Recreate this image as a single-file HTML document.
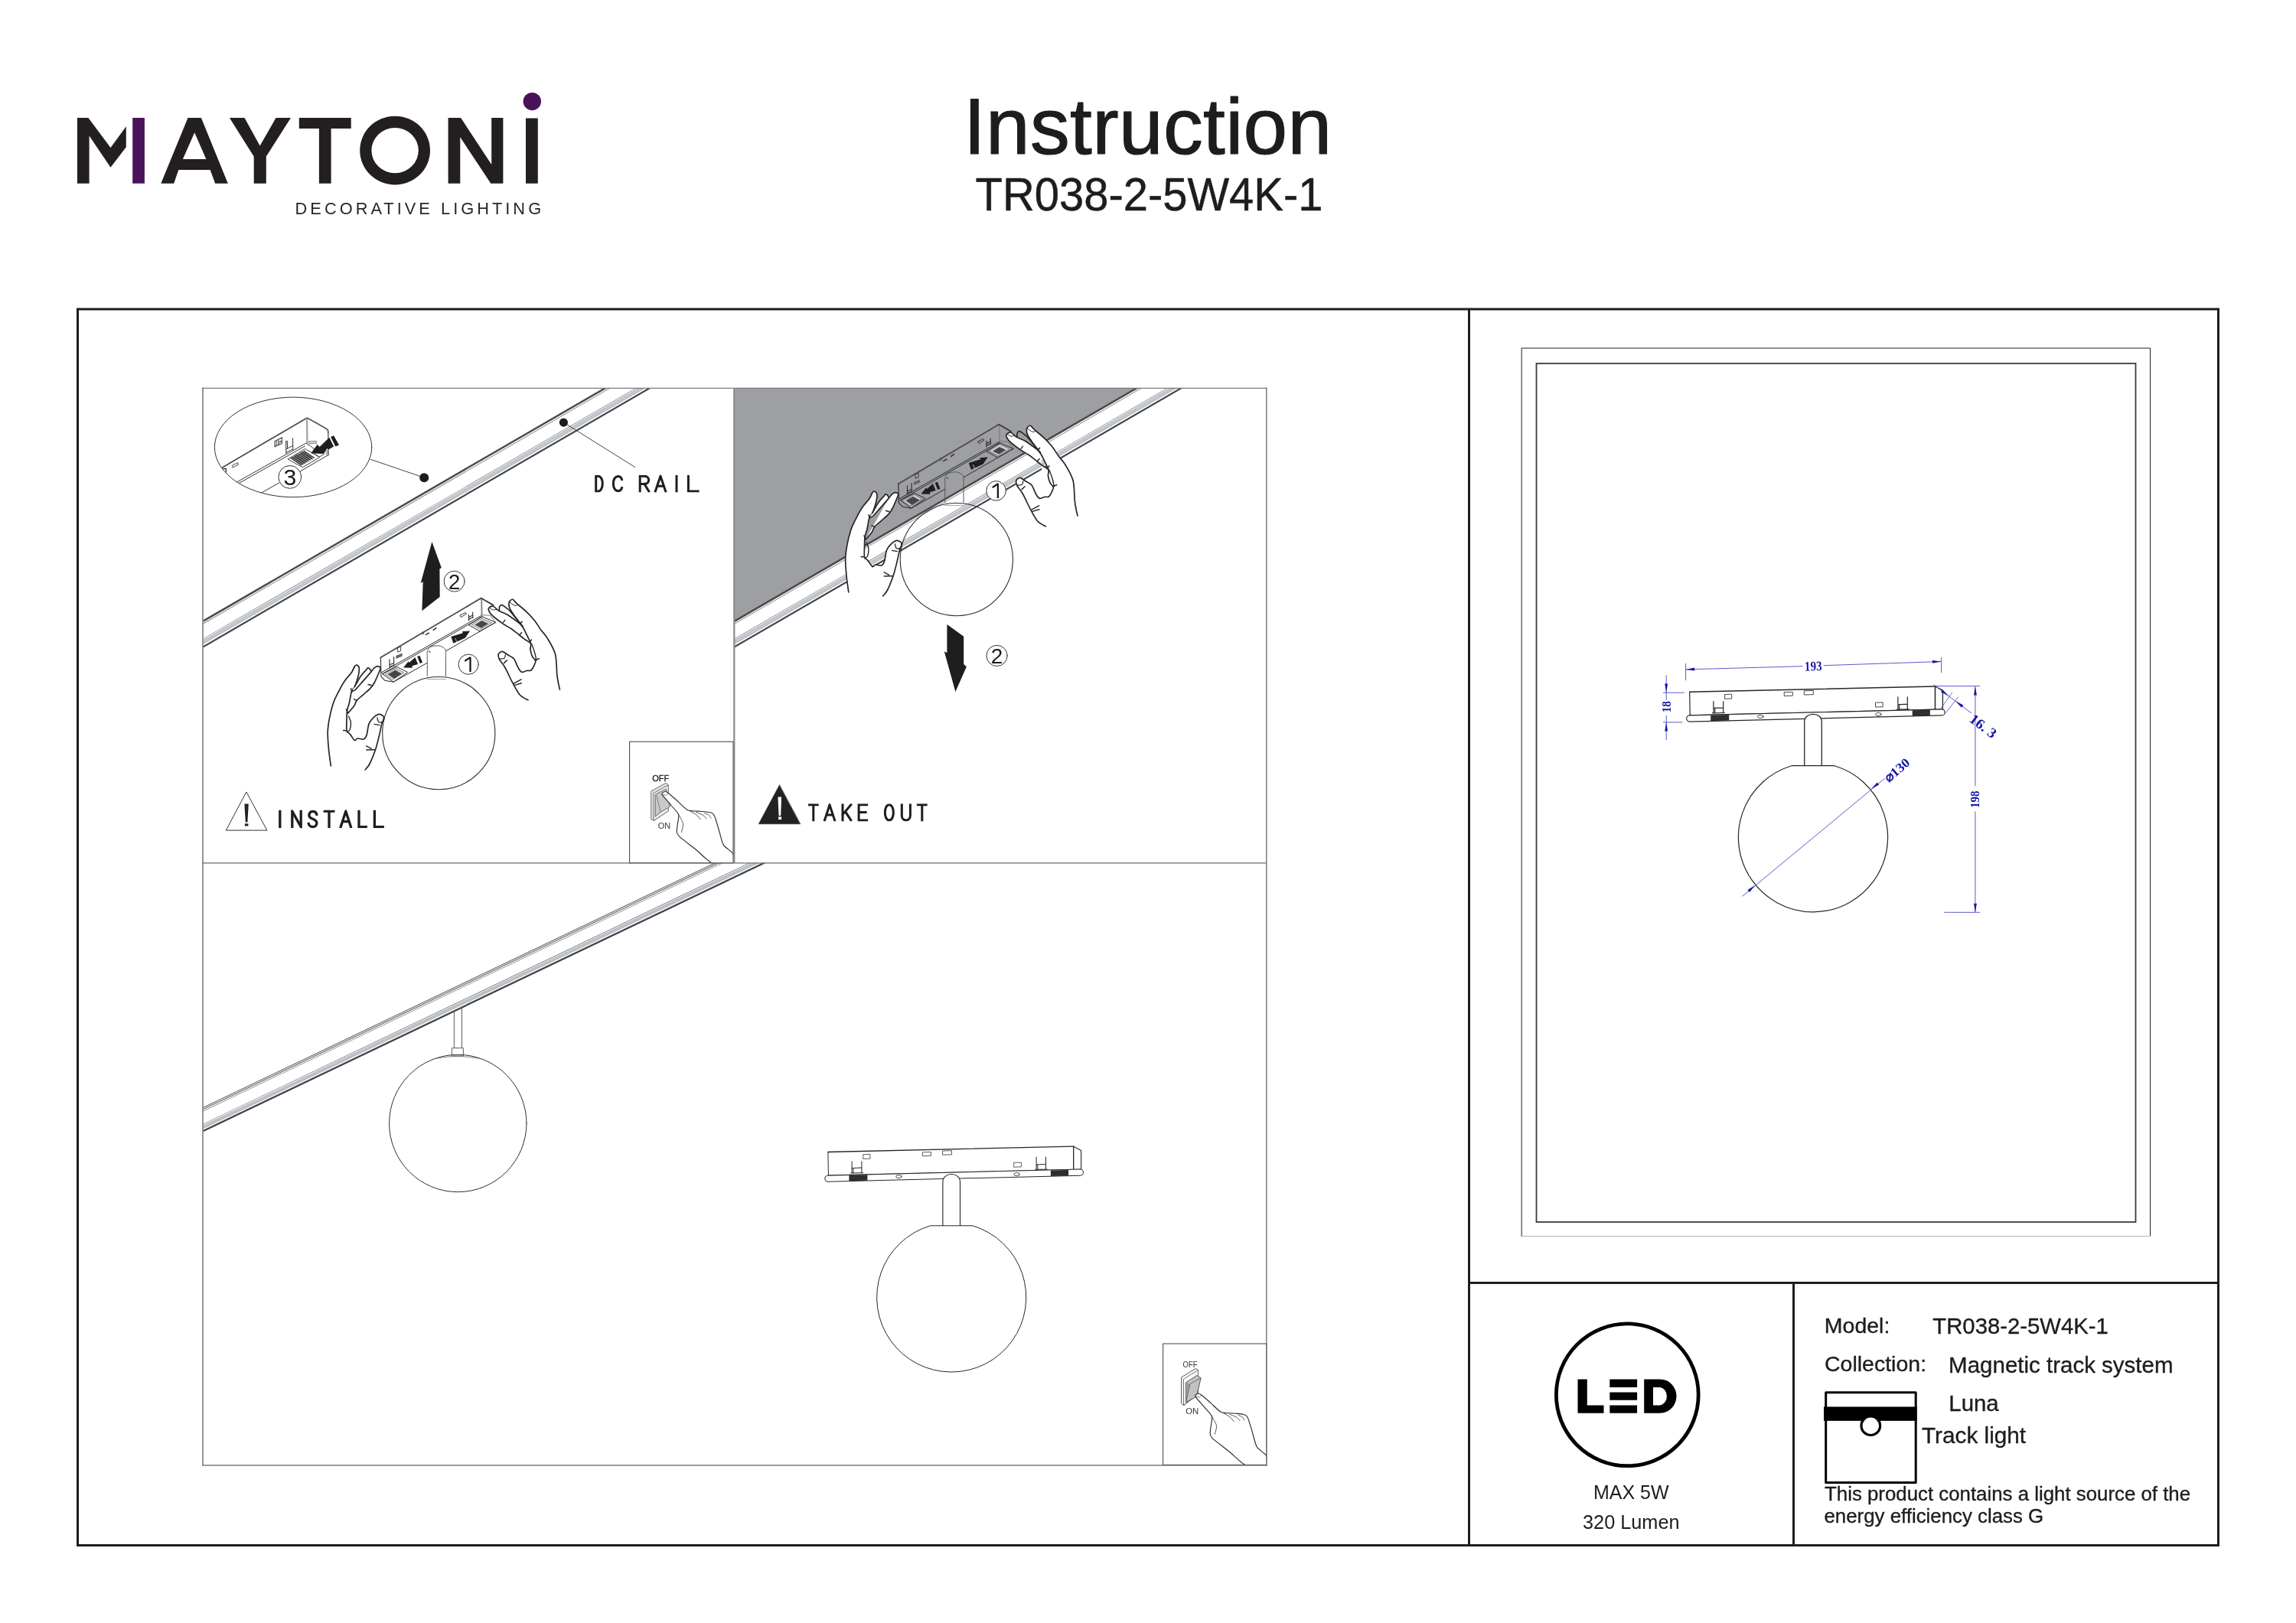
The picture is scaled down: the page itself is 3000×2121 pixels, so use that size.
<!DOCTYPE html>
<html><head><meta charset="utf-8"><title>Instruction TR038-2-5W4K-1</title>
<style>
html,body{margin:0;padding:0;background:#fff;}
body{width:3000px;height:2121px;overflow:hidden;font-family:"Liberation Sans",sans-serif;}
svg{display:block;position:absolute;left:0;top:0;will-change:transform;}
</style></head><body>
<svg width="3000" height="2121" viewBox="0 0 3000 2121" stroke-linecap="round" stroke-linejoin="round"><g opacity="0.999">
<g fill="#231f20" stroke="none">
<path d="M100.9 154 L115.4 154 L144.5 192.9 L164.8 165.3 L164.8 192.3 L144.5 218.8 L116.6 177.5 L116.6 239.7 L100.9 239.7Z" fill="#231f20" stroke="none" stroke-width="1.2" />
<path d="M210.3 239.7 L245.5 154 L262.9 154 L297.8 239.7 L281.2 239.7 L274.6 222 L233.3 222 L227.2 239.7Z M254.2 173.2 L269.4 208 L238.9 208Z" fill="#231f20" stroke="none" stroke-width="1.2" fill-rule="evenodd"/>
<path d="M299.9 154 L319.5 154 L339.6 190.6 L360.5 154 L380 154 L347.8 204.5 L347.8 239.7 L331.7 239.7 L331.7 204.5Z" fill="#231f20" stroke="none" stroke-width="1.2" />
<path d="M390.8 154 L458.7 154 L458.7 167.9 L432.6 167.9 L432.6 239.7 L416.9 239.7 L416.9 167.9 L390.8 167.9Z" fill="#231f20" stroke="none" stroke-width="1.2" />
<path fill-rule="evenodd" d="M470.2 196.6 a45.9 44.9 0 1 0 91.8 0 a45.9 44.9 0 1 0 -91.8 0Z M485.4 196.6 a30.7 29.6 0 1 0 61.4 0 a30.7 29.6 0 1 0 -61.4 0Z"/>
<path d="M585.6 239.7 L585.6 154 L602.1 154 L642.2 215 L642.2 154 L657.4 154 L657.4 239.7 L641.3 239.7 L601.3 179.3 L601.3 239.7Z" fill="#231f20" stroke="none" stroke-width="1.2" />
<path d="M687 154.4 L702.8 154.4 L702.8 239.7 L687 239.7Z" fill="#231f20" stroke="none" stroke-width="1.2" />
</g>
<path d="M173.2 154 L188.9 154 L188.9 239.7 L173.2 239.7Z" fill="#4a1259" stroke="none" stroke-width="1.2" />
<circle cx="695.3" cy="132.6" r="11.7" fill="#4a1259"/>
<text x="385.6" y="279.5" font-family="'Liberation Sans', sans-serif" font-size="21.8" font-weight="normal" text-anchor="start" fill="#2a2627" textLength="321.5" lengthAdjust="spacing">DECORATIVE LIGHTING</text>
<text x="1259" y="200.6" font-family="'Liberation Sans', sans-serif" font-size="103.5" font-weight="normal" text-anchor="start" fill="#1f1c1d" stroke="#1f1c1d" stroke-width="1.2" textLength="481" lengthAdjust="spacing">Instruction</text>
<text x="1274.5" y="274.7" font-family="'Liberation Sans', sans-serif" font-size="61.3" font-weight="normal" text-anchor="start" fill="#1f1c1d" stroke="#1f1c1d" stroke-width="0.5" textLength="454" lengthAdjust="spacingAndGlyphs">TR038-2-5W4K-1</text>
<g fill="none" stroke="#1e1e1e" stroke-width="3" stroke-linecap="butt" stroke-linejoin="miter">
<rect x="101.5" y="404" width="2797" height="1615.5"/>
<line x1="1919.5" y1="404" x2="1919.5" y2="2019.5"/>
<line x1="1919.5" y1="1676.5" x2="2898.5" y2="1676.5"/>
<line x1="2343.5" y1="1676.5" x2="2343.5" y2="2019.5"/>
</g>
<g fill="none" stroke-linecap="butt" stroke-linejoin="miter">
<path d="M1988.2 1616 V455 H2809.6" stroke="#6a6a6a" stroke-width="1.5"/>
<path d="M2809.6 455 V1615.6" stroke="#2a2a2a" stroke-width="1.1"/>
<path d="M1988.2 1615.6 H2809.6" stroke="#b0b0b0" stroke-width="1"/>
<rect x="2007.5" y="475" width="783" height="1122" stroke="#3c3c3c" stroke-width="1.8"/>
</g>
<circle cx="2126.3" cy="1822.8" r="92.9" fill="none" stroke="#000" stroke-width="4.8"/>
<path d="M2061.5 1802.4 L2073.8 1802.4 L2073.8 1836.4 L2095.5 1836.4 L2095.5 1846.8 L2061.5 1846.8Z" fill="#000" stroke="none" stroke-width="1.2" />
<path d="M2103.3 1802.4 L2139.1 1802.4 L2139.1 1812.9 L2103.3 1812.9Z" fill="#000" stroke="none" stroke-width="1.2" />
<path d="M2103.3 1819.4 L2139.1 1819.4 L2139.1 1829.8 L2103.3 1829.8Z" fill="#000" stroke="none" stroke-width="1.2" />
<path d="M2103.3 1836.4 L2139.1 1836.4 L2139.1 1846.8 L2103.3 1846.8Z" fill="#000" stroke="none" stroke-width="1.2" />
<path fill="#000" fill-rule="evenodd" d="M2148.2 1802.4 H2169.1 A21.4 22.2 0 0 1 2169.1 1846.8 H2148.2 Z M2160 1812.9 H2169.1 A9.7 11.8 0 0 1 2169.1 1836.4 H2160 Z"/>
<text x="2131.3" y="1958.7" font-family="'Liberation Sans', sans-serif" font-size="25" font-weight="normal" text-anchor="middle" fill="#1d1d1d" >MAX 5W</text>
<text x="2131.3" y="1998.4" font-family="'Liberation Sans', sans-serif" font-size="25.3" font-weight="normal" text-anchor="middle" fill="#1d1d1d" >320 Lumen</text>
<text x="2383.8" y="1741.9" font-family="'Liberation Sans', sans-serif" font-size="28.5" font-weight="normal" text-anchor="start" fill="#1d1d1d" stroke="#1d1d1d" stroke-width="0.35">Model:</text>
<text x="2525.3" y="1743.2" font-family="'Liberation Sans', sans-serif" font-size="29.3" font-weight="normal" text-anchor="start" fill="#1d1d1d" stroke="#1d1d1d" stroke-width="0.35">TR038-2-5W4K-1</text>
<text x="2384" y="1792.4" font-family="'Liberation Sans', sans-serif" font-size="28.5" font-weight="normal" text-anchor="start" fill="#1d1d1d" stroke="#1d1d1d" stroke-width="0.35">Collection:</text>
<text x="2546.1" y="1793.7" font-family="'Liberation Sans', sans-serif" font-size="29.5" font-weight="normal" text-anchor="start" fill="#1d1d1d" stroke="#1d1d1d" stroke-width="0.35">Magnetic track system</text>
<text x="2546.3" y="1843.7" font-family="'Liberation Sans', sans-serif" font-size="29.4" font-weight="normal" text-anchor="start" fill="#1d1d1d" stroke="#1d1d1d" stroke-width="0.35">Luna</text>
<text x="2511" y="1885.9" font-family="'Liberation Sans', sans-serif" font-size="29.75" font-weight="normal" text-anchor="start" fill="#1d1d1d" stroke="#1d1d1d" stroke-width="0.35">Track light</text>
<text x="2384" y="1961.4" font-family="'Liberation Sans', sans-serif" font-size="25.84" font-weight="normal" text-anchor="start" fill="#1d1d1d" stroke="#1d1d1d" stroke-width="0.35">This product contains a light source of the</text>
<text x="2383.5" y="1989.7" font-family="'Liberation Sans', sans-serif" font-size="25.84" font-weight="normal" text-anchor="start" fill="#1d1d1d" stroke="#1d1d1d" stroke-width="0.35">energy efficiency class G</text>
<rect x="2385.7" y="1819.7" width="117.5" height="117.7" fill="#fff" stroke="#000" stroke-width="3"/>
<rect x="2383" y="1838.4" width="121.7" height="18.4" fill="#000"/>
<circle cx="2444.3" cy="1863.2" r="12.3" fill="#fff" stroke="#000" stroke-width="3.2"/>
<defs>
<clipPath id="cp1"><rect x="264.5" y="507.5" width="695" height="620.3"/></clipPath>
<clipPath id="cp2"><rect x="959.5" y="507.5" width="695.3" height="620.3"/></clipPath>
<clipPath id="cp3"><rect x="264.5" y="1127.8" width="1390.3" height="786.6"/></clipPath>
<clipPath id="cpsw"><rect x="822.4" y="969.1" width="135.8" height="158.6"/></clipPath>
<clipPath id="cpell"><ellipse cx="383.1" cy="584.4" rx="102.7" ry="65.3"/></clipPath>
</defs>
<path d="M959.5 507.5 L1484.8 507.5 L959.5 811.9Z" fill="#9d9fa2" stroke="none" stroke-width="1.2" />
<g clip-path="url(#cp1)" stroke-linecap="butt">
<line x1="259.5" y1="815.1" x2="964.5" y2="406.6" stroke="#4a4a4a" stroke-width="2.5" />
<line x1="259.5" y1="818.6" x2="964.5" y2="410.1" stroke="#9a9a9a" stroke-width="1.1" />
<path d="M259.5 838 L964.5 429.5 L964.5 430.4 L259.5 838.9Z" fill="#6e6e6e" stroke="none" stroke-width="1.2" />
<path d="M259.5 838.9 L964.5 430.4 L964.5 431.4 L259.5 839.9Z" fill="#f4f5f6" stroke="none" stroke-width="1.2" />
<path d="M259.5 839.9 L964.5 431.4 L964.5 437.2 L259.5 845.7Z" fill="#b9bec5" stroke="none" stroke-width="1.2" />
<path d="M259.5 841.6 L964.5 433.1 L964.5 434.9 L259.5 843.4Z" fill="#c9cdd3" stroke="none" stroke-width="1.2" />
<path d="M259.5 845.7 L964.5 437.2 L964.5 439 L259.5 847.5Z" fill="#fafafa" stroke="none" stroke-width="1.2" />
<path d="M259.5 847.5 L964.5 439 L964.5 441.5 L259.5 850Z" fill="#424447" stroke="none" stroke-width="1.2" />
</g>
<g clip-path="url(#cp2)" stroke-linecap="butt">
<line x1="954.5" y1="814.8" x2="1659.8" y2="406.1" stroke="#4a4a4a" stroke-width="2.5" />
<line x1="954.5" y1="818.3" x2="1659.8" y2="409.6" stroke="#9a9a9a" stroke-width="1.1" />
<path d="M954.5 837.7 L1659.8 429 L1659.8 429.9 L954.5 838.6Z" fill="#6e6e6e" stroke="none" stroke-width="1.2" />
<path d="M954.5 838.6 L1659.8 429.9 L1659.8 430.9 L954.5 839.6Z" fill="#f4f5f6" stroke="none" stroke-width="1.2" />
<path d="M954.5 839.6 L1659.8 430.9 L1659.8 436.7 L954.5 845.4Z" fill="#b9bec5" stroke="none" stroke-width="1.2" />
<path d="M954.5 841.3 L1659.8 432.6 L1659.8 434.4 L954.5 843.1Z" fill="#c9cdd3" stroke="none" stroke-width="1.2" />
<path d="M954.5 845.4 L1659.8 436.7 L1659.8 438.5 L954.5 847.2Z" fill="#fafafa" stroke="none" stroke-width="1.2" />
<path d="M954.5 847.2 L1659.8 438.5 L1659.8 441 L954.5 849.7Z" fill="#424447" stroke="none" stroke-width="1.2" />
</g>
<g clip-path="url(#cp3)" stroke-linecap="butt">
<line x1="259.5" y1="1450.2" x2="1659.8" y2="780.9" stroke="#505050" stroke-width="1.0" />
<line x1="259.5" y1="1452.6" x2="1659.8" y2="783.3" stroke="#4a4a4a" stroke-width="1.0" />
<line x1="259.5" y1="1455" x2="1659.8" y2="785.7" stroke="#8a8a8a" stroke-width="0.9" />
<line x1="259.5" y1="1451.4" x2="1659.8" y2="782.1" stroke="#c4c4c4" stroke-width="1.2" />
<path d="M259.5 1471.6 L1659.8 802.2 L1659.8 803.1 L259.5 1472.5Z" fill="#66686b" stroke="none" stroke-width="1.2" />
<path d="M259.5 1472.5 L1659.8 803.1 L1659.8 803.9 L259.5 1473.3Z" fill="#f2f3f4" stroke="none" stroke-width="1.2" />
<path d="M259.5 1473.3 L1659.8 803.9 L1659.8 808.9 L259.5 1478.3Z" fill="#bcc1c7" stroke="none" stroke-width="1.2" />
<path d="M259.5 1478.3 L1659.8 808.9 L1659.8 810.3 L259.5 1479.7Z" fill="#fbfbfb" stroke="none" stroke-width="1.2" />
<path d="M259.5 1479.7 L1659.8 810.3 L1659.8 812.8 L259.5 1482.2Z" fill="#3f4144" stroke="none" stroke-width="1.2" />
</g>
<g fill="none" stroke-linecap="butt" stroke-linejoin="miter">
<line x1="265" y1="506.6" x2="265" y2="1915.7" stroke="#949494" stroke-width="2"/>
<line x1="264" y1="507.3" x2="1655.4" y2="507.3" stroke="#5c5c5c" stroke-width="1.1"/>
<line x1="1654.8" y1="506.6" x2="1654.8" y2="1915.7" stroke="#5a5a5a" stroke-width="1.2"/>
<line x1="264" y1="1914.9" x2="1655.4" y2="1914.9" stroke="#8c8c8c" stroke-width="1.7"/>
<line x1="264.5" y1="1127.9" x2="1654.8" y2="1127.9" stroke="#6e6e6e" stroke-width="1.4"/>
<line x1="959.3" y1="507.5" x2="959.3" y2="1127.9" stroke="#8a8a8a" stroke-width="2.2"/>
</g>
<defs>
<g id="fx" fill="none" stroke="#2b2b2b" stroke-width="1.1">
<path d="M628.5 781.8 L497.4 859.3" fill="none" stroke="#4d4d4d" stroke-width="1.9" />
<path d="M497.4 859.3 L497.9 884.1 L502.8 889.2 L514 891.3" fill="none" stroke="#2a2a2a" stroke-width="1.1" />
<path d="M629.2 782.2 L629.5 803.6" fill="none" stroke="#8a8a8a" stroke-width="2.0" />
<path d="M628.8 781.8 L644.6 790.9" fill="none" stroke="#3a3a3a" stroke-width="1.8" />
<path d="M498.3 878.9 L629 804.4" fill="none" stroke="#2a2a2a" stroke-width="1.0" />
<path d="M499.6 880.6 L630.3 805.9" fill="none" stroke="#2a2a2a" stroke-width="1.0" />
<path d="M514.5 891 L558.1 866.3" fill="none" stroke="#2a2a2a" stroke-width="1.0" />
<path d="M582.9 850.6 L647.6 813.3" fill="none" stroke="#2a2a2a" stroke-width="1.0" />
<path d="M629.5 803.8 L640.5 804.1 L647.7 814" fill="none" stroke="#777" stroke-width="1.0" />
<path d="M500.2 880.6 L518.7 871.5 L532.6 878.5 L514.5 891Z" fill="none" stroke="#2a2a2a" stroke-width="1.0" />
<path d="M503.4 881.3 L518 873.6 L527.8 878.9 L513.5 887.9Z" fill="#d4d4d4" stroke="#777" stroke-width="0.8" />
<path d="M506.8 881.3 L516.6 875.7 L525 880.6 L515.2 886.9Z" fill="#474747" stroke="none" stroke-width="1.2" />
<path d="M612.8 816.5 L629.5 805.7 L647.6 813.3 L627.4 824.8Z" fill="none" stroke="#2a2a2a" stroke-width="1.0" />
<path d="M616.3 816.1 L629.5 808.1 L642.7 813.7 L628.1 822.4Z" fill="#d4d4d4" stroke="#777" stroke-width="0.8" />
<path d="M620.4 816.5 L629.5 810.9 L637.9 815.1 L628.8 820.7Z" fill="#474747" stroke="none" stroke-width="1.2" />
<path d="M527 872.5 L533.7 864.2 L534.6 866 L542.4 859 L546.1 867.9 L538.3 870.3 L538.9 872.7Z" fill="#1f1e1c" stroke="none" stroke-width="1.2" />
<path d="M545.2 858.1 L548.3 856.8 L552 865.5 L548.7 867.1Z" fill="#1f1e1c" stroke="none" stroke-width="1.2" />
<path d="M614.1 824.6 L603.8 825.2 L604.8 827.3 L589.3 832.1 L592.4 840.7 L607.1 833.9 L607.8 833.7Z" fill="#1f1e1c" stroke="none" stroke-width="1.2" />
<path d="M595 834.4 L596.9 839.1" fill="none" stroke="#fff" stroke-width="0.7" />
<path d="M508.9 861.8 L509.1 872.9M514.5 858.6 L514.7 870.1M508.9 868.7 L514.5 866.7M508.9 871.5 L514.5 869.4" fill="none" stroke="#2a2a2a" stroke-width="1.1" />
<path d="M612.4 803.2 L612.6 810.9M617.6 800.1 L617.9 807.4M612.4 806.7 L617.6 803.9M612.4 809.5 L617.6 806.7" fill="none" stroke="#2a2a2a" stroke-width="1.1" />
<path d="M517.3 856.9 L525.7 853.4 L525.7 857.6 L517.3 861.1Z" fill="#666" stroke="none" stroke-width="1.2" />
<path d="M519.7 846.4 L523.6 845.1 L523.6 850.6 L520.1 852Z" fill="none" stroke="#2a2a2a" stroke-width="0.9" />
<path d="M556.3 829.4 L560.5 827.3" fill="none" stroke="#333" stroke-width="1.6" />
<path d="M566.1 823.4 L569.9 820.7" fill="none" stroke="#333" stroke-width="1.6" />
<path d="M601.3 803.9 L608.2 800.5 L609.3 802.2 L602.7 806.4Z" fill="none" stroke="#333" stroke-width="1.0" />
<circle cx="552.5" cy="827.3" r="1.2" stroke="#333" fill="#fff"/>
<path d="M558.3 883.4 C558.3 880.2 558.3 864 558.3 859.7 C558.3 855.4 557.8 853.2 558.3 851.3 C558.8 849.5 560.5 846.7 561.9 845.7 C563.3 844.8 567.1 844.2 568.9 844 C570.6 843.8 573.6 843.8 575.1 844.2 C576.7 844.6 579.7 846.3 580.7 847.1 C581.7 848 582.2 849 582.5 850.6 C582.7 852.3 582.5 855.3 582.5 859.7 C582.5 864.1 582.5 880.2 582.5 883.4" fill="none" stroke="#555" stroke-width="1.0" />
<circle cx="561.2" cy="851.7" r="0.9" stroke="#444" stroke-width="0.7"/>
<circle cx="573.3" cy="958.1" r="73.6" stroke="#2e2e2e" stroke-width="1.1"/>
<path d="M558.1 887.6 L582.8 887.6" fill="none" stroke="#999" stroke-width="0.9" />
<path d="M432.3 1001 C431.9 997.6 430 985.5 429.4 978.3 C428.8 971.1 427.6 961.2 428.4 952.7 C429.2 944.1 432.6 928.5 434.8 921.1 C436.9 913.7 440.3 908.1 442.7 903.4 C445 898.6 448 893.3 450.6 889.6 C453.1 885.9 457.5 881.5 459.4 878.7 C461.4 875.9 462.3 872.3 463.4 870.8 C464.4 869.4 465.4 868.8 466.3 869.1 C467.2 869.4 469 870.8 469.3 872.8 C469.6 874.9 469.2 879 468.3 882.7 C467.4 886.4 464.7 894.4 463.4 897.5 C462 900.6 460.5 900.3 459.4 903.4 C458.4 906.5 457.4 914.3 456.5 918.2 C455.6 922 454 925.5 453.5 929 C453 932.6 453.1 938 453 941.8 C453 945.7 452.4 952 453 954.6 C453.7 957.3 455.9 957.6 457.5 959.6 C459 961.5 461.9 966.6 463.4 967.5 C464.9 968.3 465.5 965.2 467.3 965 C469.1 964.8 473.4 966.6 475.2 966 C477 965.3 478.1 963.6 479.1 960.6 C480.2 957.5 480.6 949.3 482.1 945.8 C483.6 942.2 487.1 938.7 489 936.9 C490.9 935 493.2 933.7 494.9 933.4 C496.6 933.2 499.3 934.6 500.3 935.4 C501.4 936.2 502 937.3 501.8 938.9 C501.6 940.4 499.8 942.7 498.9 945.8 C498 948.9 497.1 954.7 495.9 959.6 C494.7 964.4 492.9 972.5 491 978.3 C489.1 984.1 485.2 993.9 483.1 998 C481 1002.2 478.1 1004.7 477.2 1005.9" fill="#fff" stroke="#262626" stroke-width="1.7" />
<path d="M484.6 878.2 C485.2 877.4 487.7 874 489 872.8 C490.3 871.7 492.3 870.7 493.4 870.6 C494.6 870.6 496.4 871.6 496.9 872.3 C497.3 873.1 497.6 872.7 496.4 875.8 C495.2 878.8 491 888.8 489 892.5 C487 896.2 485.2 898.2 483.1 900.4 C481 902.6 477.7 905.1 475.2 907.3 C472.7 909.5 468.3 912.8 466.3 915.2 C464.4 917.6 464.2 920.6 462.4 923.1 C460.6 925.6 455.7 930.6 454.5 932" fill="#fff" stroke="#262626" stroke-width="1.7" />
<path d="M463.4 897.5 C464.6 895.4 469 886.9 471.3 883.7 C473.5 880.4 476.8 877.4 478.2 875.8 C479.6 874.1 479.8 873 480.6 872.8 C481.4 872.7 483 874 483.6 874.8 C484.2 875.6 485.2 876.8 484.6 878.2 C483.9 879.7 481.1 882.4 479.1 884.6 C477.2 886.9 473.5 891 471.3 893.5 C469 896 466.1 899.9 464.4 901.4 C462.6 902.9 460.2 903.1 459.4 903.4" fill="#fff" stroke="#262626" stroke-width="1.7" />
<path d="M455.5 935.9 C455.9 937.1 458.2 941.1 458.4 943.8 C458.7 946.5 457.7 951.7 457 953.7 C456.2 955.6 454 956.6 453.5 957.1" fill="none" stroke="#262626" stroke-width="1.4" />
<path d="M448.6 954.6 L453 955.1" fill="none" stroke="#262626" stroke-width="1.5" />
<path d="M478.7 974.8 L485.1 978.3M478.7 980.1 L490.2 979.8" fill="none" stroke="#262626" stroke-width="1.5" />
<path d="M492.9 937.9 C493.2 938.8 493.8 943.1 494.9 943.8 C496 944.5 499.4 943.7 500.3 942.8 C501.3 941.9 501.2 938.6 501.3 937.9" fill="none" stroke="#262626" stroke-width="1.3" />
<path d="M489 946.3 L495.9 947.7" fill="none" stroke="#262626" stroke-width="1.3" />
<path d="M459.4 879.2 L463.4 871.8" fill="none" stroke="#262626" stroke-width="1.0" />
<path d="M458.4 899.9 L460.4 903.9M462.4 913.7 L466.3 915.7M481.1 894.5 L485.1 895.5M452.5 927 L454.5 932" fill="none" stroke="#262626" stroke-width="1.5" />
<path d="M731.4 901.1 C730.9 898.5 728.8 890.3 728 883.4 C727.1 876.4 727.5 862.3 725.5 854.8 C723.5 847.2 717.5 837.8 714.6 833.1 C711.8 828.4 709.1 826.5 706.8 823.2 C704.4 820 701.8 815.1 698.9 811.4 C695.9 807.7 690.6 802 687 798.6 C683.5 795.2 677.8 791 675.2 788.7 C672.6 786.4 671.2 783.8 669.8 783.3 C668.4 782.9 666.6 784.8 665.8 785.8 C665.1 786.7 664.8 788.2 664.9 789.7 C664.9 791.2 665.4 793.6 666.3 795.6 C667.3 797.7 669.3 800.7 671.3 803.5 C673.2 806.3 675.8 808.7 679.2 814.4 C682.5 820 690.6 834.9 693.4 841 C696.3 847 694.1 846.9 697.9 854.8 C701.7 862.6 715.5 887.5 718.6 893.2" fill="#fff" stroke="none" stroke-width="1.2" />
<path d="M683.1 818.3 C682.2 817.6 680.1 815.6 677.2 813.4 C674.2 811.2 666.9 805.7 663.4 803.5 C659.8 801.4 655.6 800.1 653.5 799.1 C651.5 798 650.9 797.7 649.6 796.6 C648.2 795.6 646.1 792.7 644.6 792.2 C643.2 791.7 641.2 792.6 640.2 793.2 C639.2 793.8 638.2 794.9 638.2 796.1 C638.3 797.4 639.6 800 640.7 801.5 C641.8 803.1 643.1 804.4 645.6 806.5 C648.1 808.5 654.2 813.1 657.5 815.4 C660.7 817.6 664.7 819.5 667.3 821.3 C670 823 672.5 825.1 675.2 827.2 C677.9 829.3 682.3 833 685.1 835.1 C687.8 837.1 692.3 838.9 693.4 841 C694.6 843.1 692.6 846.2 693 848.9 C693.3 851.5 694.9 856.6 695.9 858.7 C696.9 860.9 699.6 861.5 699.9 863.2 C700.2 864.8 698.8 867.7 697.9 869.6 C697 871.5 695.4 874.9 693.9 876 C692.5 877 689.8 876.1 688 876.5 C686.3 876.8 683.6 878.7 682.1 878.4 C680.6 878.2 679.2 876 678.2 874.5 C677.1 873 676.2 870.7 675.2 868.6 C674.2 866.5 673 862.6 671.3 860.7 C669.5 858.8 665.6 857.2 663.4 855.8 C661.2 854.4 658.2 851.6 656.5 851.3 C654.8 851 652.9 853 652 853.8 C651.2 854.6 651 855.6 651.1 856.8 C651.1 857.9 651.3 859.5 652.5 861.7 C653.8 863.9 657.7 868.6 659.4 871.5 C661.2 874.5 662.9 878.4 664.4 881.4 C665.8 884.4 667.1 887.3 669.3 891.3 C671.5 895.3 676 904.5 679.2 908 C682.3 911.6 688.4 913.9 690 914.9" fill="#fff" stroke="#262626" stroke-width="1.7" />
<path d="M731.4 901.1 C730.9 898.5 728.8 890.3 728 883.4 C727.1 876.4 727.5 862.3 725.5 854.8 C723.5 847.2 717.5 837.8 714.6 833.1 C711.8 828.4 709.1 826.5 706.8 823.2 C704.4 820 701.8 815.1 698.9 811.4 C695.9 807.7 690.6 802 687 798.6 C683.5 795.2 677.8 791 675.2 788.7 C672.6 786.4 671.2 783.8 669.8 783.3 C668.4 782.9 666.6 784.8 665.8 785.8 C665.1 786.7 664.8 788.2 664.9 789.7 C664.9 791.2 665.4 793.6 666.3 795.6 C667.3 797.7 669.3 800.7 671.3 803.5 C673.2 806.3 678 812.7 679.2 814.4" fill="none" stroke="#262626" stroke-width="1.7" />
<path d="M679.2 814.4 C679.9 815.4 682.6 818.8 684.1 821.3 C685.6 823.8 687.5 828.2 689 831.1 C690.5 834.1 693.2 839.5 693.9 841" fill="none" stroke="#262626" stroke-width="1.7" />
<path d="M652.5 798.1 C652.5 797.4 652.2 794.8 652.5 793.7 C652.8 792.6 653.7 791 654.5 790.7 C655.3 790.4 656.8 791 658 791.7 C659.1 792.4 661 794 662.4 795.1 C663.8 796.3 665.4 797.4 667.3 799.6 C669.2 801.7 673.1 806.9 675.2 809.4 C677.3 812 680.2 815.3 681.1 816.3" fill="none" stroke="#262626" stroke-width="1.7" />
<path d="M694.9 842 C695.5 843.7 698 850.7 698.9 853.8 C699.8 856.9 700.5 861.3 700.8 862.7" fill="none" stroke="#262626" stroke-width="1.4" />
<path d="M698.9 862.7 L704.3 860.7" fill="none" stroke="#262626" stroke-width="1.5" />
<path d="M658.5 866.6 L662.6 862.7M671.3 893.2 L681.1 887.8M672.4 895.4 L681.3 892.7" fill="none" stroke="#262626" stroke-width="1.5" />
<path d="M652.5 861.2 C653.5 861 657.8 861 658.9 860.2 C660.1 859.4 660.2 856.4 660.4 855.8" fill="none" stroke="#262626" stroke-width="1.2" />
<path d="M657.5 813.4 L659.9 810.4M679.2 829.2 L681.6 826.7M679.6 814.9 L682.1 812.4M692.5 838 L694.4 836.1" fill="none" stroke="#262626" stroke-width="1.5" />
<path d="M666.3 787.3 C667.2 787.8 670.7 790.7 672.3 791.2 C673.8 791.7 676 790.8 676.7 790.7" fill="none" stroke="#262626" stroke-width="1.0" />
<path d="M639.7 794.6 C640.5 795 643.3 796.9 644.6 797.1 C646 797.3 648 796.3 648.6 796.1" fill="none" stroke="#262626" stroke-width="1.0" />
</g>
</defs>
<use href="#fx"/>
<g clip-path="url(#cp2)"><use href="#fx" transform="translate(676.5,-227)"/></g>
<clipPath id="cw1"><rect x="773.2" y="620.7" width="144.4" height="22.8"/></clipPath><g clip-path="url(#cw1)">
<path d="M778.7 622.2 L778.7 642 L781.3 642 C789.3 642 789.3 622.2 781.3 622.2 Z" fill="none" stroke="#1e1e1e" stroke-width="3.0" stroke-linecap="square" stroke-linejoin="miter"/>
<path d="M812.5 626.6 C811.4 620.8 801.4 620.2 801.4 632.1 C801.4 644 811.4 643.4 812.5 637.6" fill="none" stroke="#1e1e1e" stroke-width="3.0" stroke-linecap="square" stroke-linejoin="miter"/>
<path d="M836.2 642 L836.2 622.2 L842 622.2 C849.5 622.2 849.5 632.5 842 632.5 L836.2 632.5 M842 632.5 L847.8 642" fill="none" stroke="#1e1e1e" stroke-width="3.0" stroke-linecap="square" stroke-linejoin="miter"/>
<path d="M856.3 642 L863 622.2 L869.7 642 M858.8 635.3 L867.2 635.3" fill="none" stroke="#1e1e1e" stroke-width="3.0" stroke-linecap="square" stroke-linejoin="miter"/>
<path d="M884 622.2 L884 642" fill="none" stroke="#1e1e1e" stroke-width="3.0" stroke-linecap="square" stroke-linejoin="miter"/>
<path d="M899.4 622.2 L899.4 642 L912.1 642" fill="none" stroke="#1e1e1e" stroke-width="3.0" stroke-linecap="square" stroke-linejoin="miter"/>
</g>
<clipPath id="cw2"><rect x="359.8" y="1058.5" width="146.1" height="23.8"/></clipPath><g clip-path="url(#cw2)">
<path d="M365.8 1060.2 L365.8 1080.6" fill="none" stroke="#1e1e1e" stroke-width="3.3" stroke-linecap="square" stroke-linejoin="miter"/>
<path d="M381.8 1080.6 L381.8 1060.2 L393.2 1080.6 L393.2 1060.2" fill="none" stroke="#1e1e1e" stroke-width="3.3" stroke-linecap="square" stroke-linejoin="miter"/>
<path d="M413.8 1064.2 C412.7 1058.9 404 1058.7 403.9 1065.5 C403.8 1071.6 413.9 1068.8 413.9 1075.7 C413.9 1082.1 404.4 1081.9 403.3 1076.5" fill="none" stroke="#1e1e1e" stroke-width="3.3" stroke-linecap="square" stroke-linejoin="miter"/>
<path d="M424.3 1060.2 L435.8 1060.2 M430 1060.2 L430 1080.6" fill="none" stroke="#1e1e1e" stroke-width="3.3" stroke-linecap="square" stroke-linejoin="miter"/>
<path d="M445.2 1080.6 L451.8 1060.2 L458.4 1080.6 M447.7 1073.7 L455.9 1073.7" fill="none" stroke="#1e1e1e" stroke-width="3.3" stroke-linecap="square" stroke-linejoin="miter"/>
<path d="M469 1060.2 L469 1080.6 L478.2 1080.6" fill="none" stroke="#1e1e1e" stroke-width="3.3" stroke-linecap="square" stroke-linejoin="miter"/>
<path d="M489.4 1060.2 L489.4 1080.6 L500.2 1080.6" fill="none" stroke="#1e1e1e" stroke-width="3.3" stroke-linecap="square" stroke-linejoin="miter"/>
</g>
<clipPath id="cw3"><rect x="1052" y="1050.2" width="163.7" height="23.2"/></clipPath><g clip-path="url(#cw3)">
<path d="M1057.5 1051.7 L1068.2 1051.7 M1062.8 1051.7 L1062.8 1071.9" fill="none" stroke="#1e1e1e" stroke-width="3.0" stroke-linecap="square" stroke-linejoin="miter"/>
<path d="M1077.5 1071.9 L1084 1051.7 L1090.6 1071.9 M1080 1065 L1088.1 1065" fill="none" stroke="#1e1e1e" stroke-width="3.0" stroke-linecap="square" stroke-linejoin="miter"/>
<path d="M1101 1051.7 L1101 1071.9 M1111.8 1051.7 L1101 1064.6 M1104.6 1060.6 L1111.8 1071.9" fill="none" stroke="#1e1e1e" stroke-width="3.0" stroke-linecap="square" stroke-linejoin="miter"/>
<path d="M1132.6 1051.7 L1122.1 1051.7 L1122.1 1071.9 L1132.6 1071.9 M1122.1 1061.4 L1131.1 1061.4" fill="none" stroke="#1e1e1e" stroke-width="3.0" stroke-linecap="square" stroke-linejoin="miter"/>
<path d="M1161.8 1051.7 C1169.2 1051.7 1169.2 1071.9 1161.8 1071.9 C1154.5 1071.9 1154.5 1051.7 1161.8 1051.7 Z" fill="none" stroke="#1e1e1e" stroke-width="3.0" stroke-linecap="square" stroke-linejoin="miter"/>
<path d="M1178.3 1051.7 L1178.3 1065.8 C1178.3 1073.9 1189.4 1073.9 1189.4 1065.8 L1189.4 1051.7" fill="none" stroke="#1e1e1e" stroke-width="3.0" stroke-linecap="square" stroke-linejoin="miter"/>
<path d="M1199.4 1051.7 L1210.2 1051.7 M1204.8 1051.7 L1204.8 1071.9" fill="none" stroke="#1e1e1e" stroke-width="3.0" stroke-linecap="square" stroke-linejoin="miter"/>
</g>
<path d="M321.7 1035.3 L295.3 1085.1 L348.5 1085.1Z" fill="none" stroke="#333" stroke-width="1.0" />
<path d="M319.4 1050.6 L324.8 1050.6 L323.4 1074.4 L320.8 1074.4Z" fill="#222" stroke="none" stroke-width="1.2" />
<rect x="319.9" y="1076.3" width="4.5" height="3.2" fill="#222"/>
<path d="M1018.4 1025.9 L991.3 1076.8 L1045.5 1076.8Z" fill="#222" stroke="#222" stroke-width="0.6" stroke-linejoin="miter"/>
<path d="M1016.4 1041.5 L1021.1 1041.5 L1020.2 1065.9 L1017.6 1065.9Z" fill="#fff" stroke="none" stroke-width="1.2" />
<rect x="1017" y="1067.4" width="4.1" height="3.6" fill="#fff"/>
<circle cx="593.6" cy="759.7" r="13.5" fill="#fff" stroke="#333" stroke-width="1"/>
<text x="593.6" y="769.5" font-family="'Liberation Sans', sans-serif" font-size="27.5" font-weight="normal" text-anchor="middle" fill="#1a1a1a" >2</text>
<circle cx="612.2" cy="868.2" r="13.1" fill="#fff" stroke="#333" stroke-width="1"/>
<path d="M607.3 863.9 L614.5 859.1 L614.5 877.9" fill="none" stroke="#1a1a1a" stroke-width="2.3" stroke-linecap="butt" stroke-linejoin="bevel"/>
<circle cx="1301.6" cy="641.4" r="12.8" fill="#fff" stroke="#333" stroke-width="1"/>
<path d="M1296.7 637.1 L1303.9 632.3 L1303.9 651.1" fill="none" stroke="#1a1a1a" stroke-width="2.3" stroke-linecap="butt" stroke-linejoin="bevel"/>
<circle cx="1302.6" cy="856.9" r="13.6" fill="#fff" stroke="#333" stroke-width="1"/>
<text x="1302.6" y="866.9" font-family="'Liberation Sans', sans-serif" font-size="28" font-weight="normal" text-anchor="middle" fill="#1a1a1a" >2</text>
<path d="M564.4 708.1 L576.8 742 L574.4 743.4 L574.7 780 L551.4 798.3 L552.7 760.3 L549.7 762Z" fill="#1f1e1c" stroke="none" stroke-width="1.2" />
<path d="M1237.4 815.9 L1259.2 831.8 L1259.2 868 L1262.9 871.3 L1248.4 903.9 L1233.8 851.4 L1237.4 852.9Z" fill="#1f1e1c" stroke="none" stroke-width="1.2" />
<line x1="736.4" y1="552.1" x2="829.7" y2="610.5" stroke="#444" stroke-width="1.0" />
<circle cx="736.4" cy="552.1" r="5.6" fill="#1c1c1c"/>
<ellipse cx="383.1" cy="584.4" rx="102.7" ry="65.3" fill="#fff" stroke="#333" stroke-width="1"/>
<g clip-path="url(#cpell)">
<path d="M401 546.2 L266.1 625.3" fill="none" stroke="#4a4a4a" stroke-width="1.7" />
<path d="M401.1 546.9 L401.4 579.4" fill="none" stroke="#a8a8a8" stroke-width="2.4" />
<path d="M401.6 546.2 C402.9 546.9 412.1 552.1 414.6 553.6 C417 555 425.2 559.5 426.6 560.5 C428 561.4 428.4 562.2 428.6 562.8 C428.8 563.4 428.8 566.1 428.8 566.5" fill="none" stroke="#5a5a5a" stroke-width="1.8" />
<path d="M428.8 566.5 L428.8 574.5" fill="none" stroke="#777" stroke-width="1.6" />
<path d="M428.7 588.1 L428.8 594.5" fill="none" stroke="#777" stroke-width="2.2" />
<path d="M426.3 589.3 L426.3 593.6" fill="none" stroke="#888" stroke-width="1.2" />
<path d="M400.7 578.7 L278.4 647.5" fill="none" stroke="#333" stroke-width="1.0" />
<path d="M398.2 583.1 L278.4 650.6" fill="none" stroke="#333" stroke-width="1.0" />
<path d="M428.8 594.7 L392.4 615.9" fill="none" stroke="#333" stroke-width="1.0" />
<path d="M364.6 631.1 L327.7 651.8" fill="none" stroke="#333" stroke-width="1.0" />
<path d="M401.6 580.7 L405.3 582.5 L412.7 588.7" fill="none" stroke="#444" stroke-width="1.0" />
<path d="M404.1 576.5 L413.3 576.4 L413.9 579.4 L404.1 580Z" fill="#cfcfcf" stroke="#777" stroke-width="0.8" />
<path d="M376.4 600.1 C377.8 599.2 396.1 588 397.6 587.1 C399.1 586.3 398.2 586.5 399.5 587.1 C400.7 587.8 415.3 595.6 416.4 596.4 C417.6 597.1 418 597.3 416.7 598.2 C415.4 599.1 397.9 609.3 396.4 610.1 C394.9 610.9 395.6 610.9 394.2 610.2 C392.9 609.6 377.5 600.8 376.4 600.1" fill="#fff" stroke="#333" stroke-width="1.0" />
<path d="M380 598.5 L397.3 589.3 L409.6 597.3 L394.2 608.4Z" fill="#8a8a8a" stroke="none" stroke-width="1.2" />
<path d="M380 598.5 L393.3 607.8" fill="none" stroke="#2e2e2e" stroke-width="1.3" />
<path d="M382.5 597.2 L395.8 606.5" fill="none" stroke="#2e2e2e" stroke-width="1.3" />
<path d="M385 595.9 L398.2 605.1" fill="none" stroke="#2e2e2e" stroke-width="1.3" />
<path d="M387.4 594.6 L400.7 603.8" fill="none" stroke="#2e2e2e" stroke-width="1.3" />
<path d="M389.9 593.3 L403.2 602.5" fill="none" stroke="#2e2e2e" stroke-width="1.3" />
<path d="M392.4 591.9 L405.6 601.2" fill="none" stroke="#2e2e2e" stroke-width="1.3" />
<path d="M394.8 590.6 L408.1 599.9" fill="none" stroke="#2e2e2e" stroke-width="1.3" />
<path d="M397.3 589.3 L410.5 598.5" fill="none" stroke="#2e2e2e" stroke-width="1.3" />
<path d="M410.9 593.6 L417 597.3 L423.2 593.7 L422.7 591.1" fill="none" stroke="#444" stroke-width="1.0" />
<path d="M373.6 577 L373.9 592.4M382.5 572.7 L382.8 587.8M374.2 586.8 L382.5 582.5M374.2 591.3 L382.5 587M373.6 577 L375.4 576.4 L375.6 585.9" fill="none" stroke="#333" stroke-width="1.0" />
<path d="M359.1 576.7 L368.3 571.7 L368.3 579.4 L359.1 583.7Z" fill="none" stroke="#333" stroke-width="1.1" />
<path d="M361.3 577 L361.3 582.5M363.7 575.7 L363.7 581.3M363.7 577 L368 576.4 L363.7 580" fill="none" stroke="#444" stroke-width="0.9" />
<path d="M303.6 608.2 L310.7 604.7 L311.4 607.2 L304.4 610.7Z" fill="none" stroke="#333" stroke-width="0.9" />
<path d="M291.8 612.9 L295 612.1 L295.5 616.8" fill="none" stroke="#333" stroke-width="1.4" />
<path d="M406.2 592.4 L414.6 581 L417.6 584.1 L430.3 571.7 L436.1 583.4 L429.3 587.6 L427.5 585.9 L422.9 593Z" fill="#1f1e1c" stroke="none" stroke-width="1.2" />
<path d="M432.1 571.1 L436.1 569.3 L443 581.6 L438.4 583.6Z" fill="#1f1e1c" stroke="none" stroke-width="1.2" />
</g>
<circle cx="378.8" cy="623.4" r="14.9" fill="#fff" stroke="#333" stroke-width="1"/>
<text x="378.8" y="634.2" font-family="'Liberation Sans', sans-serif" font-size="30.2" font-weight="normal" text-anchor="middle" fill="#1a1a1a" >3</text>
<line x1="484.2" y1="600.3" x2="554.2" y2="624.2" stroke="#444" stroke-width="1.0" />
<circle cx="554.2" cy="624.2" r="6" fill="#1c1c1c"/>
<defs><g id="swhand">
<path d="M865.4 1036.5 C865.8 1036 867.9 1034.6 868.8 1034.5 C869.6 1034.4 870.7 1034.5 872.6 1036 C874.6 1037.4 882.4 1044.4 885.4 1047 C888.4 1049.7 895.2 1057.1 898.7 1058.7 C902.2 1060.2 912 1060 915.3 1060.3 C918.7 1060.7 925.5 1060.9 927.5 1061.5 C929.6 1062 931.8 1062.9 933.1 1065.3 C934.4 1067.7 937.2 1077.4 938.6 1082 C940 1086.5 943.1 1100.3 945.3 1104.1 C947.5 1108 955.8 1112.4 957.5 1115.2 C959.1 1118.1 962.2 1127 959.1 1128.5 C956.1 1130.1 937.2 1130.6 931.4 1128.5 C925.7 1126.5 914.9 1114.9 909.8 1110.8 C904.7 1106.7 890.6 1095.8 887.6 1093.1 C884.6 1090.3 884.5 1089.4 884.3 1087.5 C884 1085.6 885.1 1079.1 885.4 1076.4 C885.7 1073.7 887.5 1067.1 886.5 1064.2 C885.5 1061.4 879 1055 876.5 1052 C874.1 1049.1 866.7 1040.8 865.4 1038.9 C864.1 1037.1 865.1 1037 865.4 1036.5Z" fill="#fff" stroke="#262626" stroke-width="1.1" />
<path d="M902 1060.3 C903.1 1060.9 908 1063.4 909.8 1064.8 C911.6 1066.2 914.6 1070.1 915.3 1070.9" fill="none" stroke="#444" stroke-width="0.9" />
<path d="M909.8 1061.5 C911 1062 916.9 1064.2 918.7 1065.3 C920.4 1066.5 922.5 1069.4 923.1 1070" fill="none" stroke="#444" stroke-width="0.9" />
<path d="M920.9 1062.6 C921.6 1062.9 925.3 1064.4 926.4 1065.3 C927.5 1066.2 928.8 1068.7 929.2 1069.2" fill="none" stroke="#444" stroke-width="0.9" />
<path d="M886.5 1064.2 C887.3 1065.9 892.1 1073.3 892.6 1076.4 C893.1 1079.5 890.7 1086 890.4 1087.5" fill="none" stroke="#444" stroke-width="0.9" />
<path d="M866.5 1038.2 C867.1 1038.3 869.6 1039.5 870.4 1039.3 C871.2 1039.1 872.3 1036.9 872.6 1036.5" fill="none" stroke="#555" stroke-width="0.8" />
</g></defs>
<rect x="822.4" y="969.1" width="135.8" height="158.6" fill="#fff"/>
<path d="M851 1033.7 L869.9 1023.2 L873.2 1025.4 L873.2 1059.8 L854.4 1072.5 L851 1070.9Z" fill="#dcdcdc" stroke="#777" stroke-width="1.0" />
<path d="M854.4 1036.5 L873.2 1026 L873.2 1059.8 L854.4 1072.2Z" fill="#f1f1f1" stroke="#777" stroke-width="1.0" />
<path d="M856.6 1038.2 L870.4 1031 L875.4 1054.2 L863.2 1061.5 L856.6 1067Z" fill="#c9c9c9" stroke="#666" stroke-width="1.0" />
<path d="M857.9 1039.3 L863.2 1061.5" fill="none" stroke="#777" stroke-width="0.9" />
<text x="852.3" y="1020.5" font-family="'Liberation Sans', sans-serif" font-size="11.5" font-weight="normal" text-anchor="start" fill="#222" stroke="#222" stroke-width="0.35" textLength="22" lengthAdjust="spacingAndGlyphs">OFF</text>
<text x="859.7" y="1082.6" font-family="'Liberation Sans', sans-serif" font-size="10.3" font-weight="normal" text-anchor="start" fill="#333" textLength="16.3" lengthAdjust="spacingAndGlyphs">ON</text>
<g clip-path="url(#cpsw)"><use href="#swhand"/></g>
<rect x="822.6" y="969.3" width="135.4" height="158.4" fill="none" stroke="#505050" stroke-width="1.1" stroke-linejoin="miter"/>
<rect x="1519.3" y="1755.8" width="135.5" height="158.6" fill="#fff"/>
<path d="M1543.9 1799.7 L1562 1788.6 L1565.5 1790.3 L1565.5 1821.9 L1546.8 1836.6 L1543.9 1834.2Z" fill="#f6f6f6" stroke="#555" stroke-width="1.0" />
<path d="M1546.8 1802 L1565.5 1790.6 L1565.5 1821.9 L1546.8 1836.2Z" fill="#fdfdfd" stroke="#666" stroke-width="0.9" />
<path d="M1549.7 1806.7 L1563.8 1797.4 L1569.1 1800.9 L1564.4 1820.8 L1560.9 1826.6 L1549.7 1832.5Z" fill="#c2c2c2" stroke="#555" stroke-width="1.0" />
<path d="M1549.7 1806.7 L1555 1808.5 L1549.7 1832.5Z" fill="#9c9c9c" stroke="none" stroke-width="1.2" />
<path d="M1549.7 1832.5 L1555 1808.5 L1569.1 1800.9" fill="none" stroke="#666" stroke-width="0.9" />
<text x="1545.5" y="1786.9" font-family="'Liberation Sans', sans-serif" font-size="10.5" font-weight="normal" text-anchor="start" fill="#333" textLength="19" lengthAdjust="spacingAndGlyphs">OFF</text>
<text x="1549.2" y="1847.6" font-family="'Liberation Sans', sans-serif" font-size="10.3" font-weight="normal" text-anchor="start" fill="#333" textLength="17" lengthAdjust="spacingAndGlyphs">ON</text>
<g transform="translate(696.9,786.7)"><g clip-path="url(#cpsw)"><use href="#swhand"/></g></g>
<rect x="1519.6" y="1756" width="135.2" height="158.4" fill="none" stroke="#505050" stroke-width="1.1" stroke-linejoin="miter"/>
<g fill="none" stroke="#5e5e5e" stroke-width="1">
<path d="M593.4 1321 V1369.6 M603.5 1316 V1369.6" />
<rect x="590.8" y="1369.6" width="14.6" height="10.4" fill="#fff"/>
<circle cx="598.3" cy="1468" r="89.7" stroke="#2e2e2e"/>
<path d="M570 1383.2 Q598 1377.5 627 1383.4" stroke="#666" stroke-width="0.8"/>
</g>
<g fill="none" stroke="#262626" stroke-width="1">
<path d="M1081.9 1505.5 L1402.7 1498.2" fill="none" stroke="#262626" stroke-width="1.3" />
<path d="M1081.9 1505.5 L1082.4 1535.9" fill="none" stroke="#262626" stroke-width="1" />
<path d="M1402.7 1498.2 L1412.6 1503.4 L1412.6 1528.6" fill="none" stroke="#262626" stroke-width="1.1" />
<path d="M1402.7 1498.2 L1402.7 1528.9" fill="none" stroke="#262626" stroke-width="1.3" />
<path d="M1082.4 1535.9 L1412 1528.1" fill="none" stroke="#262626" stroke-width="0.8" />
<line x1="1081.9" y1="1540.2" x2="1411.4" y2="1532.1" stroke="#262626" stroke-width="9.1" stroke-linecap="round"/>
<line x1="1081.9" y1="1540.2" x2="1411.4" y2="1532.1" stroke="#fff" stroke-width="7.1" stroke-linecap="round"/>
<path d="M1109.4 1535.9 L1133.4 1535.3 L1133.4 1542.8 L1109.4 1543.4Z" fill="#2e2e2e" stroke="none" stroke-width="1.2" />
<path d="M1372.9 1529.5 L1396.1 1528.9 L1396.1 1536.5 L1372.9 1537Z" fill="#2e2e2e" stroke="none" stroke-width="1.2" />
<ellipse cx="1174.5" cy="1537.6" rx="3.8" ry="2" stroke="#333" stroke-width="0.9"/>
<ellipse cx="1328.6" cy="1534.7" rx="3.8" ry="2" stroke="#333" stroke-width="0.9"/>
<path d="M1128.2 1508.7 L1136.9 1508.4 L1136.9 1514.2 L1128.2 1514.4Z" fill="none" stroke="#333" stroke-width="0.8" />
<path d="M1205.8 1505.8 L1216.5 1505.5 L1216.5 1510.4 L1205.8 1510.7Z" fill="none" stroke="#333" stroke-width="0.8" />
<path d="M1231.9 1504 L1243.5 1503.7 L1243.5 1508.9 L1231.9 1509.2Z" fill="none" stroke="#333" stroke-width="0.8" />
<path d="M1325.1 1519.4 L1334.4 1519.1 L1334.4 1524.9 L1325.1 1525.2Z" fill="none" stroke="#333" stroke-width="0.8" />
<path d="M1113.1 1517.9 L1113.1 1533M1125.9 1517.9 L1125.9 1532.7M1113.1 1526.6 L1125.9 1526M1111.7 1533 L1127.6 1532.7M1114.9 1526.6 L1114.9 1533" fill="none" stroke="#262626" stroke-width="1" />
<path d="M1354.1 1512.1 L1354.1 1528.3M1366.5 1512.1 L1366.5 1528.1M1354.1 1522 L1366.5 1521.4M1352.6 1528.3 L1368.3 1528.1M1355.8 1522 L1355.8 1528.3" fill="none" stroke="#262626" stroke-width="1" />
<path d="M1231.9 1601.9 L1231.9 1544.6 C1231.9 1531.2 1254.5 1531.2 1254.5 1544.6 L1254.5 1601.9" fill="#fff" stroke="#262626" stroke-width="1.1"/>
<path d="M1271.2 1601.9 A97.6 97.6 0 1 1 1215.2 1601.9 Z" fill="#fff" stroke="#262626" stroke-width="1"/>
</g>
<g fill="none" stroke="#262626" stroke-width="1.2" transform="translate(1125.8,-601.2)">
<path d="M1081.9 1505.5 L1402.7 1498.2" fill="none" stroke="#262626" stroke-width="1.5" />
<path d="M1081.9 1505.5 L1082.4 1535.9" fill="none" stroke="#262626" stroke-width="1.2" />
<path d="M1402.7 1498.2 L1412.6 1503.4 L1412.6 1528.6" fill="none" stroke="#262626" stroke-width="1.3" />
<path d="M1402.7 1498.2 L1402.7 1528.9" fill="none" stroke="#262626" stroke-width="1.5" />
<path d="M1082.4 1535.9 L1412 1528.1" fill="none" stroke="#262626" stroke-width="1" />
<line x1="1081.9" y1="1540.2" x2="1411.4" y2="1532.1" stroke="#262626" stroke-width="9.3" stroke-linecap="round"/>
<line x1="1081.9" y1="1540.2" x2="1411.4" y2="1532.1" stroke="#fff" stroke-width="6.9" stroke-linecap="round"/>
<path d="M1109.4 1535.9 L1133.4 1535.3 L1133.4 1542.8 L1109.4 1543.4Z" fill="#2e2e2e" stroke="none" stroke-width="1.2" />
<path d="M1372.9 1529.5 L1396.1 1528.9 L1396.1 1536.5 L1372.9 1537Z" fill="#2e2e2e" stroke="none" stroke-width="1.2" />
<ellipse cx="1174.5" cy="1537.6" rx="3.8" ry="2" stroke="#333" stroke-width="0.9"/>
<ellipse cx="1328.6" cy="1534.7" rx="3.8" ry="2" stroke="#333" stroke-width="0.9"/>
<path d="M1128.2 1508.7 L1136.9 1508.4 L1136.9 1514.2 L1128.2 1514.4Z" fill="none" stroke="#333" stroke-width="0.9" />
<path d="M1205.8 1505.8 L1216.5 1505.5 L1216.5 1510.4 L1205.8 1510.7Z" fill="none" stroke="#333" stroke-width="0.9" />
<path d="M1231.9 1504 L1243.5 1503.7 L1243.5 1508.9 L1231.9 1509.2Z" fill="none" stroke="#333" stroke-width="0.9" />
<path d="M1325.1 1519.4 L1334.4 1519.1 L1334.4 1524.9 L1325.1 1525.2Z" fill="none" stroke="#333" stroke-width="0.9" />
<path d="M1113.1 1517.9 L1113.1 1533M1125.9 1517.9 L1125.9 1532.7M1113.1 1526.6 L1125.9 1526M1111.7 1533 L1127.6 1532.7M1114.9 1526.6 L1114.9 1533" fill="none" stroke="#262626" stroke-width="1.2" />
<path d="M1354.1 1512.1 L1354.1 1528.3M1366.5 1512.1 L1366.5 1528.1M1354.1 1522 L1366.5 1521.4M1352.6 1528.3 L1368.3 1528.1M1355.8 1522 L1355.8 1528.3" fill="none" stroke="#262626" stroke-width="1.2" />
<path d="M1231.9 1601.9 L1231.9 1544.6 C1231.9 1531.2 1254.5 1531.2 1254.5 1544.6 L1254.5 1601.9" fill="#fff" stroke="#262626" stroke-width="1.3"/>
<path d="M1271.2 1601.9 A97.6 97.6 0 1 1 1215.2 1601.9 Z" fill="#fff" stroke="#262626" stroke-width="1.2"/>
</g>
<line x1="2202.6" y1="874.9" x2="2355.4" y2="870.7" stroke="#4848c4" stroke-width="0.9" stroke-linecap="butt"/>
<line x1="2382.5" y1="869.7" x2="2536.6" y2="864.5" stroke="#4848c4" stroke-width="0.9" stroke-linecap="butt"/>
<line x1="2202.6" y1="867" x2="2202.6" y2="889.2" stroke="#4848c4" stroke-width="0.9" stroke-linecap="butt"/>
<line x1="2536.6" y1="859.1" x2="2536.6" y2="879.3" stroke="#4848c4" stroke-width="0.9" stroke-linecap="butt"/>
<path d="M2202.6 874.9 L2214.1 872.6 L2214.2 876.5Z" fill="#1616a6" stroke="none" stroke-width="1.2" />
<path d="M2536.6 864.5 L2525 866.8 L2524.9 862.9Z" fill="#1616a6" stroke="none" stroke-width="1.2" />
<text transform="translate(2369.2 870.4) rotate(-1.8)" font-family="'Liberation Serif', serif" font-weight="bold" font-size="17.6" fill="#1616a6" x="-11.3" y="5.9" textLength="22.7" lengthAdjust="spacingAndGlyphs">193</text>
<line x1="2173" y1="905.2" x2="2200.8" y2="905.2" stroke="#4848c4" stroke-width="0.9" stroke-linecap="butt"/>
<line x1="2173" y1="943.9" x2="2198.4" y2="943.9" stroke="#4848c4" stroke-width="0.9" stroke-linecap="butt"/>
<line x1="2177.2" y1="882.3" x2="2177.2" y2="915" stroke="#4848c4" stroke-width="0.9" stroke-linecap="butt"/>
<line x1="2177.2" y1="934.8" x2="2177.2" y2="967" stroke="#4848c4" stroke-width="0.9" stroke-linecap="butt"/>
<path d="M2177.2 905.2 L2175.2 893.6 L2179.1 893.6Z" fill="#1616a6" stroke="none" stroke-width="1.2" />
<path d="M2177.2 943.9 L2179.1 955.5 L2175.2 955.5Z" fill="#1616a6" stroke="none" stroke-width="1.2" />
<text transform="translate(2177.2 923.7) rotate(-90)" font-family="'Liberation Serif', serif" font-weight="bold" font-size="17.6" fill="#1616a6" x="-7.6" y="5.9" textLength="15.2" lengthAdjust="spacingAndGlyphs">18</text>
<line x1="2527.9" y1="896.6" x2="2587.1" y2="896.6" stroke="#4848c4" stroke-width="0.9" stroke-linecap="butt"/>
<line x1="2540.3" y1="1192.3" x2="2587.1" y2="1192.3" stroke="#4848c4" stroke-width="0.9" stroke-linecap="butt"/>
<line x1="2580.9" y1="897" x2="2580.9" y2="1027.2" stroke="#4848c4" stroke-width="0.9" stroke-linecap="butt"/>
<line x1="2580.9" y1="1060.5" x2="2580.9" y2="1192.3" stroke="#4848c4" stroke-width="0.9" stroke-linecap="butt"/>
<path d="M2580.9 897 L2582.9 908.6 L2579 908.6Z" fill="#1616a6" stroke="none" stroke-width="1.2" />
<path d="M2580.9 1192.3 L2579 1180.7 L2582.9 1180.7Z" fill="#1616a6" stroke="none" stroke-width="1.2" />
<text transform="translate(2580.5 1044.8) rotate(-90)" font-family="'Liberation Serif', serif" font-weight="bold" font-size="17.6" fill="#1616a6" x="-11.3" y="5.9" textLength="22.7" lengthAdjust="spacingAndGlyphs">198</text>
<line x1="2526.6" y1="894.8" x2="2575.8" y2="931.9" stroke="#4848c4" stroke-width="0.9" stroke-linecap="butt"/>
<line x1="2535.7" y1="926.3" x2="2550.8" y2="905.1" stroke="#4848c4" stroke-width="0.8" stroke-linecap="butt"/>
<line x1="2542.6" y1="931.5" x2="2558.5" y2="910.8" stroke="#4848c4" stroke-width="0.8" stroke-linecap="butt"/>
<path d="M2546.4 909.7 L2536 904.3 L2538.3 901.2Z" fill="#1616a6" stroke="none" stroke-width="1.2" />
<path d="M2554.9 916.1 L2565.3 921.5 L2563 924.7Z" fill="#1616a6" stroke="none" stroke-width="1.2" />
<text transform="translate(2591.3 948.9) rotate(37)" font-family="'Liberation Serif', serif" font-weight="bold" font-size="18.5" fill="#1616a6" x="-19.5" y="6.2" textLength="39" lengthAdjust="spacingAndGlyphs">16. 3</text>
<line x1="2276.5" y1="1171.4" x2="2462.6" y2="1017.3" stroke="#4848c4" stroke-width="0.9" stroke-linecap="butt"/>
<path d="M2293.5 1156.8 L2286 1165.9 L2283.4 1162.9Z" fill="#1616a6" stroke="none" stroke-width="1.2" />
<path d="M2444.9 1031.1 L2452.8 1022.5 L2455.2 1025.6Z" fill="#1616a6" stroke="none" stroke-width="1.2" />
<text transform="translate(2478.6 1006.5) rotate(-41)" font-family="'Liberation Serif', serif" font-weight="bold" font-size="17" fill="#1616a6" x="-19" y="5.7" textLength="38" lengthAdjust="spacingAndGlyphs">&#8960;130</text>
</g></svg>
</body></html>
